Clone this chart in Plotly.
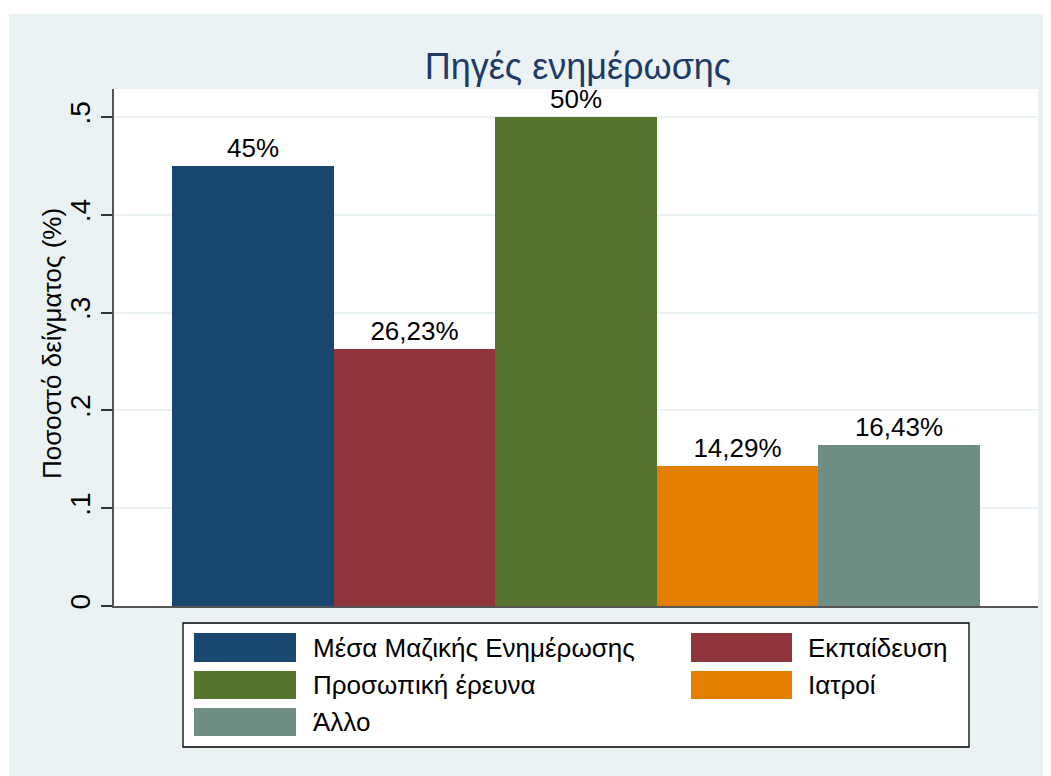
import plotly.graph_objects as go

categories = ["Μέσα Μαζικής Ενημέρωσης", "Εκπαίδευση", "Προσωπική έρευνα", "Ιατροί", "Άλλο"]
values = [0.45, 0.2623, 0.50, 0.1429, 0.1643]
labels = ["45%", "26,23%", "50%", "14,29%", "16,43%"]
colors = ["#1A476F", "#90353B", "#55752F", "#E37E00", "#6E8E84"]
ytick_vals = [0, 0.1, 0.2, 0.3, 0.4, 0.5]
ytick_text = ["0", ".1", ".2", ".3", ".4", ".5"]
y_title = "Ποσοστό δείγματος (%)"
chart_title = "Πηγές ενημέρωσης"

OFF = 8  # browser body margin
W, H = 1051 - OFF, 776 - OFF
L, R, T, B = 114 - OFF, 1038 - OFF, 89 - OFF, 606 - OFF
FONT = "Arial, Liberation Sans, sans-serif"


def px_x(p):
    return (p - OFF - L) / (R - L)


def px_y(p):
    return (B - (p - OFF)) / (B - T)


fig = go.Figure()
for i, (c, v, lab, col) in enumerate(zip(categories, values, labels, colors)):
    fig.add_trace(go.Bar(
        x=[i], y=[v], width=1, name=c, marker=dict(color=col, line=dict(width=0)),
        text=[lab], textposition="outside", textfont=dict(size=26, color="black", family=FONT),
        cliponaxis=False, showlegend=False, hoverinfo="skip",
    ))

shapes = []
shapes.append(dict(type="rect", xref="paper", yref="paper", layer="below",
                   x0=px_x(9), x1=px_x(1060), y0=px_y(14), y1=px_y(790),
                   fillcolor="#EAF2F3", line=dict(width=0)))
shapes.append(dict(type="rect", xref="paper", yref="paper", layer="below",
                   x0=0, x1=1, y0=0, y1=1, fillcolor="white", line=dict(width=0)))
shapes.append(dict(type="rect", xref="paper", yref="paper",
                   x0=px_x(183), x1=px_x(969), y0=px_y(623), y1=px_y(747),
                   fillcolor="white", line=dict(color="black", width=1.3)))

annotations = []
col_x = [(194, 296, 311), (691, 792, 806)]
row_y = [(633, 662), (671, 699), (708, 736)]
for i, (c, col) in enumerate(zip(categories, colors)):
    r, k = divmod(i, 2)
    sx0, sx1, tx = col_x[k]
    sy0, sy1 = row_y[r]
    shapes.append(dict(type="rect", xref="paper", yref="paper",
                       x0=px_x(sx0), x1=px_x(sx1), y0=px_y(sy1), y1=px_y(sy0),
                       fillcolor=col, line=dict(width=0)))
    annotations.append(dict(xref="paper", yref="paper", x=px_x(tx), y=px_y((sy0 + sy1) / 2),
                            text=c, showarrow=False, xanchor="left", yanchor="middle",
                            font=dict(size=26, color="black", family=FONT)))

# y-axis title
annotations.append(dict(xref="paper", yref="paper", x=px_x(52), y=px_y(344),
                        text=y_title, textangle=-90, showarrow=False,
                        xanchor="center", yanchor="middle",
                        font=dict(size=26, color="black", family=FONT)))

fig.update_layout(
    width=W, height=H,
    margin=dict(l=L, r=W - R, t=T, b=H - B, pad=0),
    paper_bgcolor="white", plot_bgcolor="rgba(0,0,0,0)",
    title=dict(text=chart_title, x=px_x(578), xref="paper", xanchor="center",
               y=1 - (66 - OFF) / H, yanchor="middle",
               font=dict(size=36, color="#1E3A66", family=FONT)),
    shapes=shapes, annotations=annotations,
    bargap=0, showlegend=False,
    xaxis=dict(range=[-0.859, 4.859], showticklabels=False, ticks="", showgrid=False,
               zeroline=False, showline=True, linecolor="#555555", linewidth=2, fixedrange=True),
    yaxis=dict(range=[0, (B - T) / 978], tickvals=ytick_vals, ticktext=ytick_text,
               tickangle=-90, ticks="outside", ticklen=11, tickwidth=1.5, tickcolor="#333333",
               tickfont=dict(size=28, color="black", family=FONT),
               showgrid=True, gridcolor="#EAF2F3", gridwidth=2, zeroline=False,
               showline=True, linecolor="#555555", linewidth=1.5),
)

fig.write_html("out.html")
